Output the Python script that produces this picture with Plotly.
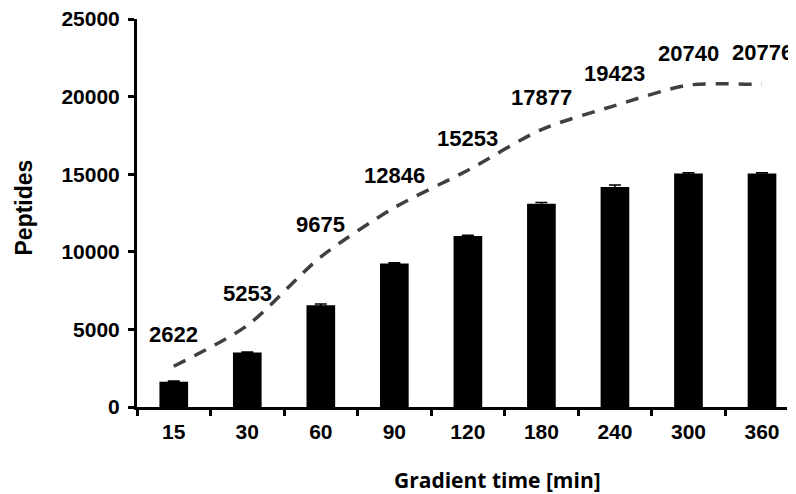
import plotly.graph_objects as go

categories = ["15", "30", "60", "90", "120", "180", "240", "300", "360"]
bar_values = [1630, 3510, 6560, 9250, 11010, 13100, 14170, 15040, 15040]
bar_errors = [40, 40, 80, 50, 50, 70, 140, 60, 60]
line_values = [2622, 5253, 9675, 12846, 15253, 17877, 19423, 20740, 20776]
y_ticks = [0, 5000, 10000, 15000, 20000, 25000]

BOLD = dict(family="Liberation Sans, Arial", color="black", weight="bold")

fig = go.Figure()
fig.add_trace(go.Bar(
    x=categories, y=bar_values,
    marker=dict(color="black", line=dict(width=0)),
    width=0.39,
    error_y=dict(type="data", array=bar_errors, visible=True,
                 color="black", thickness=1.5, width=6),
    showlegend=False,
))
fig.add_trace(go.Scatter(
    x=categories, y=line_values,
    mode="lines",
    line=dict(color="#404040", width=3.5, dash="13px,10px", shape="spline", smoothing=0.75),
    showlegend=False,
))

annotations = []
for i, v in enumerate(line_values):
    annotations.append(dict(
        x=i, y=v, xref="x", yref="y", text=str(v), showarrow=False,
        xanchor="center", yanchor="middle",
        yshift=32, font=dict(size=22, **BOLD),
    ))
annotations.append(dict(
    x=-0.174, y=0.514, xref="paper", yref="paper", text="Peptides",
    xanchor="center", yanchor="middle",
    textangle=-90, showarrow=False, font=dict(size=23, **BOLD),
))
annotations.append(dict(
    x=0.555, y=-0.188, xref="paper", yref="paper", text="Gradient time [min]",
    xanchor="center", yanchor="middle",
    showarrow=False,
    font=dict(family="Open Sans, Liberation Sans", size=21, color="black", weight="bold"),
))

fig.update_layout(
    width=788, height=486,
    margin=dict(l=129, r=9, t=11, b=87),
    paper_bgcolor="white", plot_bgcolor="white",
    font=dict(family="Liberation Sans, Arial", color="black"),
    annotations=annotations,
)
fig.update_xaxes(
    type="category",
    range=[-0.5, 8.34],
    automargin=False,
    showline=True, linecolor="black", linewidth=3,
    ticks="outside", tickson="boundaries", ticklen=6, tickwidth=3, tickcolor="black",
    ticklabelstandoff=4, ticklabeloverflow="allow",
    tickfont=dict(size=21, **BOLD),
    showgrid=False, zeroline=False,
)
fig.update_yaxes(
    range=[0, 25000],
    automargin=False,
    tickvals=y_ticks,
    ticktext=[str(v) for v in y_ticks],
    showline=True, linecolor="black", linewidth=3,
    ticks="outside", ticklen=6, tickwidth=3, tickcolor="black",
    ticklabelstandoff=4, ticklabeloverflow="allow",
    tickfont=dict(size=21, **BOLD),
    showgrid=False, zeroline=False,
)

fig.write_html("out.html")
